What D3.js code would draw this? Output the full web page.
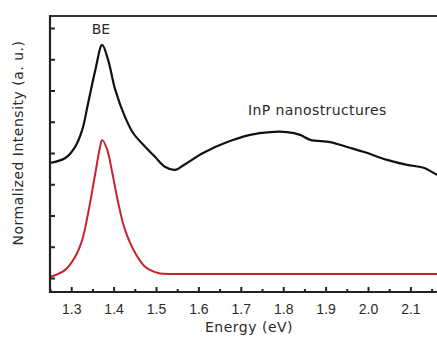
<!DOCTYPE html>
<html>
<head>
<meta charset="utf-8">
<script src="https://cdn.jsdelivr.net/npm/d3@7"></script>
<style>
  body { margin: 0; background: #fff; }
  svg { display: block; font-family: "DejaVu Sans", sans-serif; }
</style>
</head>
<body>
<svg id="chart" width="437" height="342"></svg>
<script>
// energy (eV) and normalized intensity
const blackE = [1.25, 1.286, 1.309, 1.326, 1.34, 1.357, 1.373, 1.387, 1.404, 1.427, 1.446, 1.475, 1.498, 1.522, 1.545, 1.564, 1.611, 1.668, 1.722, 1.769, 1.809, 1.84, 1.864, 1.911, 1.951, 1.991, 2.045, 2.092, 2.133, 2.163, 2.2]
const blackI = [3.68, 3.84, 4.19, 4.74, 5.6, 6.66, 7.46, 6.98, 6.02, 5.15, 4.64, 4.19, 3.87, 3.55, 3.46, 3.6, 4.0, 4.35, 4.58, 4.67, 4.67, 4.58, 4.42, 4.35, 4.19, 4.03, 3.78, 3.62, 3.52, 3.3, 3.1]
const redE = [1.25, 1.286, 1.309, 1.326, 1.34, 1.357, 1.368, 1.373, 1.385, 1.397, 1.411, 1.427, 1.451, 1.475, 1.505, 1.545, 1.7, 1.9, 2.1, 2.2]
const redI = [0.03, 0.26, 0.67, 1.22, 2.08, 3.36, 4.19, 4.42, 4.1, 3.36, 2.4, 1.54, 0.8, 0.35, 0.16, 0.13, 0.13, 0.13, 0.13, 0.13]
const xTicks = [1.3, 1.4, 1.5, 1.6, 1.7, 1.8, 1.9, 2.0, 2.1]
const xMinor = [1.25, 1.35, 1.45, 1.55, 1.65, 1.75, 1.85, 1.95, 2.05, 2.15]
const yTicks = [0, 1, 2, 3, 4, 5, 6, 7, 8]

const svg = d3.select('#chart')
const padLeft = 50, padTop = 16, axisY = 292
const textColor = '#2a2a2a'
const axisColor = '#222'

const xScale = d3.scaleLinear()
	.domain([1.25, 2.2])
	.range([padLeft, padLeft + 0.95 * 424])

const yScale = d3.scaleLinear()
	.domain([-0.448, 8.384])
	.range([axisY, padTop])

// curves
const line = d3.line()
	.x(d => xScale(d[0]))
	.y(d => yScale(d[1]))
	.curve(d3.curveCatmullRom.alpha(0.5))

svg.append('path')
	.attr('d', line(redE.map((e, i) => [e, redI[i]])))
	.attr('fill', 'none')
	.attr('stroke', '#c8232b')
	.attr('stroke-width', 2)

svg.append('path')
	.attr('d', line(blackE.map((e, i) => [e, blackI[i]])))
	.attr('fill', 'none')
	.attr('stroke', '#111')
	.attr('stroke-width', 2.2)

// x axis, ticks pointing inward
const xAxis = d3.axisBottom(xScale)
	.tickValues(xTicks)
	.tickSize(-5)
	.tickFormat(d3.format('.1f'))

const gx = svg.append('g')
	.attr('transform', `translate(0, ${axisY})`)
	.call(xAxis)

gx.selectAll('.tick text')
	.style('font-size', '14px')
	.style('fill', textColor)
	.attr('dy', 0)
	.attr('y', 22)
gx.selectAll('.tick line').style('stroke', axisColor).style('stroke-width', 2)
gx.select('path.domain').remove()

const xMinorAxis = d3.axisBottom(xScale)
	.tickValues(xMinor)
	.tickSize(-3)
	.tickFormat('')

const gxm = svg.append('g')
	.attr('transform', `translate(0, ${axisY})`)
	.call(xMinorAxis)
gxm.selectAll('.tick line').style('stroke', axisColor).style('stroke-width', 2)
gxm.select('path.domain').remove()

// y axis, no labels
const yAxis = d3.axisLeft(yScale)
	.tickValues(yTicks)
	.tickSize(-5)
	.tickFormat('')

const gy = svg.append('g')
	.attr('transform', `translate(${padLeft}, 0)`)
	.call(yAxis)
gy.selectAll('.tick line').style('stroke', axisColor).style('stroke-width', 2)
gy.select('path.domain').remove()

// frame lines
svg.append('line')
	.attr('x1', padLeft).attr('x2', 437)
	.attr('y1', axisY).attr('y2', axisY)
	.attr('stroke', axisColor).attr('stroke-width', 2.2)
svg.append('line')
	.attr('x1', padLeft).attr('x2', 437)
	.attr('y1', padTop).attr('y2', padTop)
	.attr('stroke', '#333').attr('stroke-width', 2.2)
svg.append('line')
	.attr('x1', padLeft).attr('x2', padLeft)
	.attr('y1', padTop - 1).attr('y2', axisY + 1)
	.attr('stroke', axisColor).attr('stroke-width', 2.2)

// labels
svg.append('text')
	.attr('x', 101).attr('y', 34)
	.attr('text-anchor', 'middle')
	.style('font-size', '14px')
	.style('fill', textColor)
	.text('BE')

svg.append('text')
	.attr('x', 248).attr('y', 115)
	.style('font-size', '14px')
	.style('letter-spacing', '0.4px')
	.style('fill', textColor)
	.text('InP nanostructures')

svg.append('text')
	.attr('x', 249).attr('y', 332)
	.attr('text-anchor', 'middle')
	.style('font-size', '14px')
	.style('letter-spacing', '0.5px')
	.style('fill', textColor)
	.text('Energy (eV)')

svg.append('text')
	.attr('transform', 'translate(23, 143) rotate(-90)')
	.attr('text-anchor', 'middle')
	.style('font-size', '14px')
	.style('letter-spacing', '0.5px')
	.style('fill', textColor)
	.text('Normalized Intensity (a. u.)')
</script>
</body>
</html>
